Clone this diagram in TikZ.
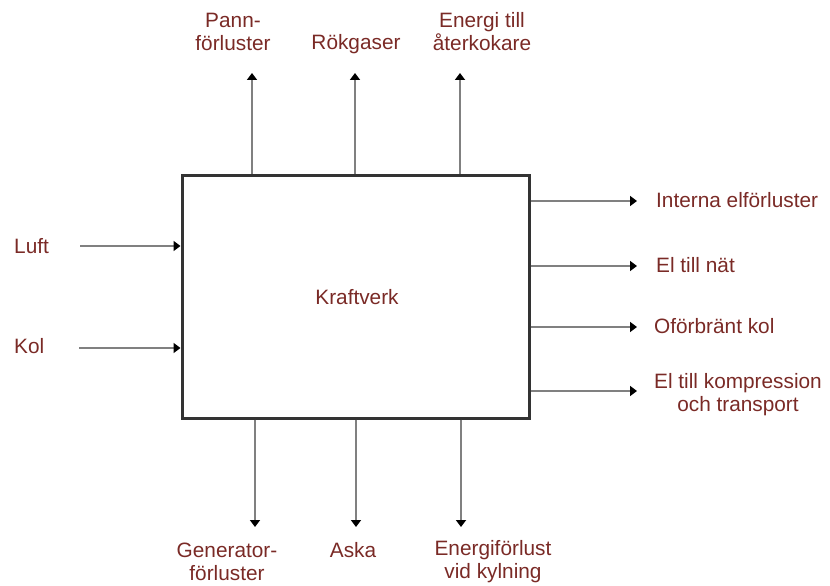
\documentclass[tikz,border=0pt]{standalone}
\usepackage{fontspec}
\setmainfont{Liberation Sans}
\usetikzlibrary{arrows.meta}
\definecolor{txt}{RGB}{122,42,38}
\definecolor{flow}{RGB}{128,128,128}
\definecolor{frame}{RGB}{51,51,51}
\begin{document}
\begin{tikzpicture}[x=1pt,y=-1pt,
  lbl/.style={text=txt,font=\fontsize{20.8}{23}\selectfont,inner sep=0pt,align=center},
  flowarrow/.style={draw=flow,line width=2.5pt,-{Triangle[width=10pt,length=7pt,color=black]}},
  plant/.style={draw=frame,line width=3pt,fill=white,minimum width=347pt,minimum height=243pt,inner sep=0pt}]
\useasboundingbox (0,0) rectangle (830,586);
\node[plant] (box) at (355.5,296.5) {};
\node[lbl] (kv) at (357,297) {Kraftverk};
% inputs
\node[lbl,anchor=west] (luft) at (14,246) {Luft};
\node[lbl,anchor=west] (kol) at (14,346) {Kol};
\coordinate (luftS) at (80,246);
\coordinate (kolS) at (79,348);
\draw[flowarrow] (luftS) -- (luftS -| box.west);
\draw[flowarrow] (kolS) -- (kolS -| box.west);
% top outputs
\coordinate (t1) at (252,73);
\coordinate (t2) at (355,73);
\coordinate (t3) at (460,73);
\draw[flowarrow] (t1 |- box.north) -- (t1);
\draw[flowarrow] (t2 |- box.north) -- (t2);
\draw[flowarrow] (t3 |- box.north) -- (t3);
\node[lbl] (pann) at (233,32) {Pann-\\förluster};
\node[lbl] (rok) at (356,44) {Rökgaser};
\node[lbl] (eat) at (482,32) {Energi till\\återkokare};
% right outputs
\coordinate (r1) at (637,201);
\coordinate (r2) at (637,266);
\coordinate (r3) at (637,327);
\coordinate (r4) at (637,391);
\draw[flowarrow] (r1 -| box.east) -- (r1);
\draw[flowarrow] (r2 -| box.east) -- (r2);
\draw[flowarrow] (r3 -| box.east) -- (r3);
\draw[flowarrow] (r4 -| box.east) -- (r4);
\node[lbl,anchor=west] (ief) at (656,200) {Interna elförluster};
\node[lbl,anchor=west] (etn) at (656,265) {El till nät};
\node[lbl,anchor=west] (ofk) at (654,326) {Oförbränt kol};
\node[lbl,anchor=west] (ekt) at (654,395) {El till kompression\\och transport};
% bottom outputs
\coordinate (b1) at (255,527);
\coordinate (b2) at (356,527);
\coordinate (b3) at (461,527);
\draw[flowarrow] (b1 |- box.south) -- (b1);
\draw[flowarrow] (b2 |- box.south) -- (b2);
\draw[flowarrow] (b3 |- box.south) -- (b3);
\node[lbl] (gen) at (227,562) {Generator-\\förluster};
\node[lbl] (aska) at (353,550) {Aska};
\node[lbl] (efk) at (493,562) {Energiförlust\\vid kylning};
\end{tikzpicture}
\end{document}
